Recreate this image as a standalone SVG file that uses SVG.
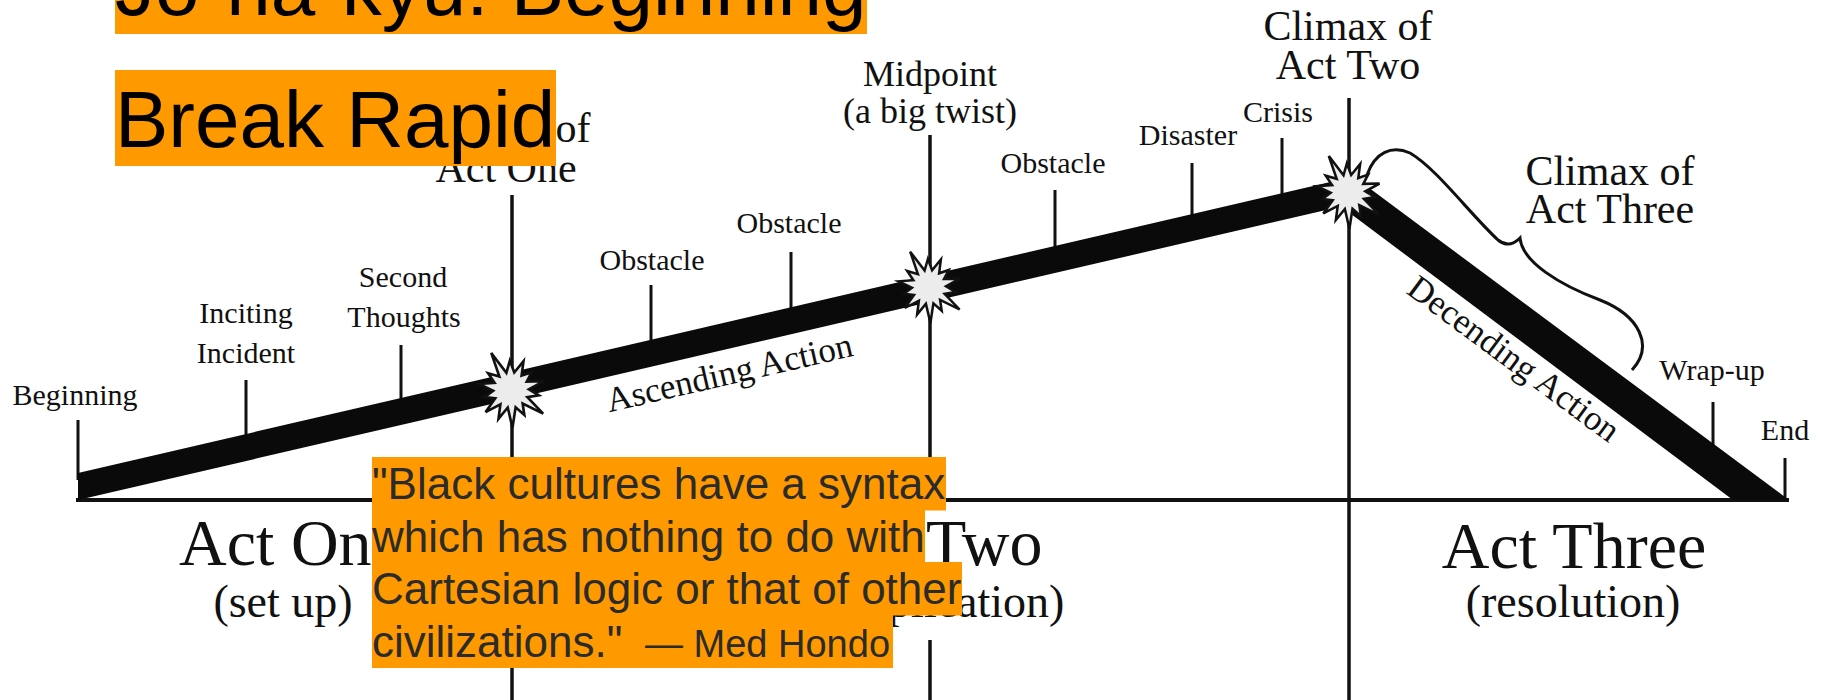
<svg xmlns="http://www.w3.org/2000/svg" xmlns:xlink="http://www.w3.org/1999/xlink" width="1823" height="700" viewBox="0 0 1823 700">
<style>
.lbl{font-family:"Liberation Serif","Times New Roman",serif;fill:#111;text-anchor:middle}
.s30{font-size:30px}
.s35{font-size:35px}
.s36{font-size:36px}
.s42{font-size:42px}
.act{font-size:66px}
.sub{font-size:46px}
.axis{stroke:#111;stroke-width:4;fill:none}
.vline{stroke:#111;stroke-width:3.5;fill:none}
.tick{stroke:#111;stroke-width:3;fill:none}
.band{fill:#0a0a0a}
.hl{fill:#FF9900}
.title{font-family:"Liberation Sans",Arial,sans-serif;font-size:80px;fill:#000}
.quote{font-family:"Liberation Sans",Arial,sans-serif;font-size:44px;fill:#2b2b2b}
.attr{font-family:"Liberation Sans",Arial,sans-serif;font-size:38px;fill:#2b2b2b}
</style>
<defs>
<polygon id="burst" fill="#ececec" stroke="#111" stroke-width="2.5" stroke-linejoin="miter" points="-18.8,-35.3 -4.4,-16.4 -1.1,-28 3.1,-16.7 11.9,-27.5 10.1,-13.7 19.7,-17 15,-8 30.9,-8.3 17,-0.7 26.5,5 15.6,6.8 30.6,22.5 11.1,12.9 12.7,23.8 4.4,16.4 1.4,36 -3.1,16.7 -11.9,27.5 -10.1,13.7 -24.2,21 -15,8 -25.1,6.8 -17,0.7 -30.5,-5.7 -15.6,-6.8 -21.8,-16 -11.1,-12.9"/>
</defs>
<rect width="1823" height="700" fill="#fff"/>

<g id="axes">
<line class="axis" x1="76" y1="500" x2="1789" y2="500"/>
<line class="vline" x1="512" y1="195" x2="512" y2="700"/>
<line class="vline" x1="930" y1="135" x2="930" y2="508"/>
<line class="vline" x1="930" y1="640" x2="930" y2="700"/>
<line class="vline" x1="1349" y1="98" x2="1349" y2="700"/>
</g>

<g id="connectors">
<line class="tick" x1="78" y1="420" x2="78" y2="480"/>
<line class="tick" x1="246" y1="380" x2="246" y2="440"/>
<line class="tick" x1="401" y1="345" x2="401" y2="404"/>
<line class="tick" x1="651" y1="285" x2="651" y2="345"/>
<line class="tick" x1="791" y1="252" x2="791" y2="312"/>
<line class="tick" x1="1055" y1="190" x2="1055" y2="252"/>
<line class="tick" x1="1192" y1="163" x2="1192" y2="220"/>
<line class="tick" x1="1282" y1="138" x2="1282" y2="198"/>
<line class="tick" x1="1713" y1="402" x2="1713" y2="452"/>
<line class="tick" x1="1785" y1="458" x2="1785" y2="500"/>
<polygon id="ascending-band" class="band" points="78,473 1352,177 1352,204 78,500"/>
<polygon id="descending-band" class="band" points="1345,170 1789,500 1733,500 1335,202"/>
<path id="brace" d="M1367,175 C1375,152 1392,145 1410,153 C1436,168 1470,214 1498,240 Q1509,249 1520,238 C1522,262 1560,285 1600,300 C1640,316 1654,346 1632,370" fill="none" stroke="#111" stroke-width="3"/>
<use xlink:href="#burst" transform="translate(511,390) scale(1.05)"/>
<use xlink:href="#burst" transform="translate(929,287)"/>
<use xlink:href="#burst" transform="translate(1348,192) scale(1.02)"/>
</g>

<g id="node-beginning"><text class="lbl s30" x="75" y="405">Beginning</text></g>
<g id="node-inciting"><text class="lbl s30" x="246" y="323">Inciting</text><text class="lbl s30" x="246" y="363">Incident</text></g>
<g id="node-second"><text class="lbl s30" x="403" y="287">Second</text><text class="lbl s30" x="404" y="327">Thoughts</text></g>
<g id="node-climax1"><text class="lbl s42" x="506" y="142">Climax of</text><text class="lbl s42" x="506" y="182">Act One</text></g>
<g id="node-obstacle1"><text class="lbl s30" x="652" y="270">Obstacle</text></g>
<g id="node-obstacle2"><text class="lbl s30" x="789" y="233">Obstacle</text></g>
<g id="node-midpoint"><text class="lbl s36" x="930" y="86">Midpoint</text><text class="lbl s36" x="930" y="123">(a big twist)</text></g>
<g id="node-obstacle3"><text class="lbl s30" x="1053" y="173">Obstacle</text></g>
<g id="node-disaster"><text class="lbl s30" x="1188" y="145">Disaster</text></g>
<g id="node-crisis"><text class="lbl s30" x="1278" y="122">Crisis</text></g>
<g id="node-climax2"><text class="lbl s42" x="1348" y="40">Climax of</text><text class="lbl s42" x="1348" y="79">Act Two</text></g>
<g id="node-climax3"><text class="lbl s42" x="1610" y="185">Climax of</text><text class="lbl s42" x="1610" y="223">Act Three</text></g>
<g id="node-wrapup"><text class="lbl s30" x="1712" y="380">Wrap-up</text></g>
<g id="node-end"><text class="lbl s30" x="1785" y="440">End</text></g>
<g id="node-ascending"><text class="lbl s35" transform="translate(732,384) rotate(-13)">Ascending Action</text></g>
<g id="node-descending"><text class="lbl s35" transform="translate(1507,368) rotate(36.5)">Decending Action</text></g>
<g id="node-act1"><text class="lbl act" x="290" y="565">Act One</text><text class="lbl sub" x="283" y="617">(set up)</text></g>
<g id="node-act2"><text class="lbl act" x="929" y="565">Act Two</text><text class="lbl sub" x="929" y="617">(complication)</text></g>
<g id="node-act3"><text class="lbl act" x="1574" y="568">Act Three</text><text class="lbl sub" x="1573" y="617">(resolution)</text></g>

<g id="title">
<rect class="hl" x="115" y="-60" width="752" height="94"/>
<rect class="hl" x="115" y="70" width="441" height="96"/>
<text class="title" x="115" y="15">Jo-ha-kyū: Beginning</text>
<text class="title" x="115" y="147">Break Rapid</text>
</g>

<g id="quote">
<rect class="hl" x="372" y="457" width="574" height="53.5"/>
<rect class="hl" x="372" y="510" width="553" height="52.5"/>
<rect class="hl" x="372" y="562" width="590" height="53.5"/>
<rect class="hl" x="372" y="615" width="521" height="53"/>
<text class="quote" x="372" y="499">"Black cultures have a syntax</text>
<text class="quote" x="372" y="552">which has nothing to do with</text>
<text class="quote" x="372" y="604">Cartesian logic or that of other</text>
<text class="quote" x="372" y="657">civilizations."</text>
<text class="attr" x="645" y="657">— Med Hondo</text>
</g>
</svg>
